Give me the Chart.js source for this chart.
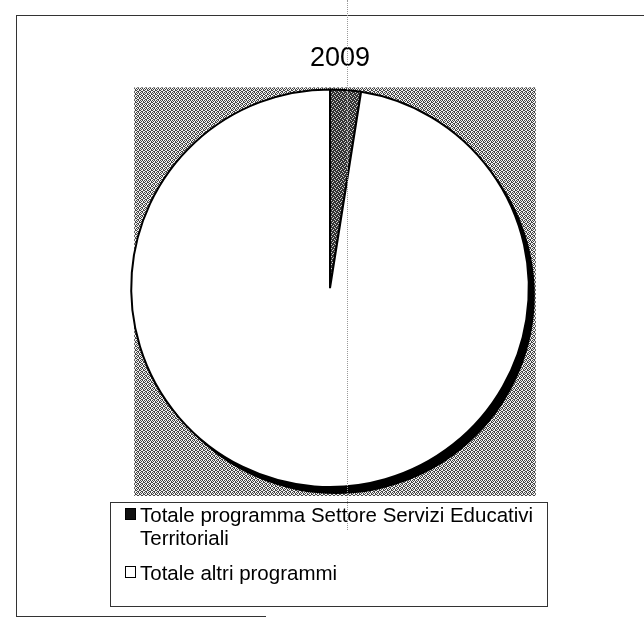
<!DOCTYPE html>
<html>
<head>
<meta charset="utf-8">
<title>2009</title>
<script src="https://cdn.jsdelivr.net/npm/chart.js@4/dist/chart.umd.min.js"></script>
<style>
  html, body { margin: 0; padding: 0; background: #fff; }
  #wrap { position: relative; width: 644px; height: 620px; overflow: hidden; }
  #pie { position: absolute; left: 0; top: 0; }
  .frame { position: absolute; background: #333; }
  #fold { position: absolute; left: 347px; top: 0; height: 530px; border-left: 1px dotted #999; }
  #legend {
    position: absolute; left: 110px; top: 502px; width: 438px; height: 105px;
    border: 1px solid #333; box-sizing: border-box;
    font-family: "Liberation Sans", Arial, sans-serif; font-size: 20.5px; line-height: 23px; color: #000;
  }
  .item { position: relative; padding-left: 29px; width: 410px; }
  .item + .item { margin-top: 12px; }
  .swatch { position: absolute; left: 14px; top: 5px; width: 11px; height: 12px; border: 1.5px solid #000; box-sizing: border-box; }
</style>
</head>
<body>
<div id="wrap">
  <canvas id="pie" width="644" height="620"></canvas>
  <div class="frame" style="left:16px; top:15px; width:628px; height:1px;"></div>
  <div class="frame" style="left:16px; top:15px; width:1px; height:602px;"></div>
  <div class="frame" style="left:16px; top:616px; width:250px; height:1px;"></div>
  <div id="fold"></div>
  <div id="legend"></div>
</div>
<script>
const chartTitle = '2009';
const categories = ['Totale programma Settore Servizi Educativi Territoriali', 'Totale altri programmi'];
const shares = [2.5, 97.5];
const sliceColors = ['#333333', '#ffffff'];
const legendColors = ['#111111', '#ffffff'];

// little dotted tiles, like the printed/scanned greys
function stipple(dark, light, dots) {
  const c = document.createElement('canvas');
  c.width = 4; c.height = 4;
  const g = c.getContext('2d');
  g.fillStyle = light;
  g.fillRect(0, 0, 4, 4);
  g.fillStyle = dark;
  dots.forEach(([x, y]) => g.fillRect(x, y, 1, 1));
  return g.createPattern(c, 'repeat');
}

const backPattern = stipple('#444444', '#f2f2f2', [[0, 0], [2, 0], [1, 1], [3, 1], [0, 2], [3, 2], [1, 3], [2, 3]]);
const slicePattern = stipple(sliceColors[0], '#d0d0d0', [[0, 0], [1, 0], [2, 0], [0, 1], [2, 1], [3, 1], [1, 2], [2, 2], [3, 2], [0, 3], [1, 3], [3, 3]]);

const plotBack = {
  id: 'plotBack',
  beforeDatasetsDraw(chart) {
    const arc = chart.getDatasetMeta(0).data[0];
    if (!arc) return;
    const { x, y, outerRadius: r } = arc.getProps(['x', 'y', 'outerRadius'], true);
    const ctx = chart.ctx;
    ctx.save();
    ctx.fillStyle = backPattern;
    ctx.fillRect(x - r + 3, y - r - 2, 2 * r + 4, 2 * r + 11);
    // heavy dark edge at lower right
    ctx.fillStyle = '#000';
    ctx.beginPath();
    ctx.arc(x + 6, y + 7, r, 0, Math.PI * 2);
    ctx.fill();
    ctx.restore();
  }
};

const shiftTitle = {
  id: 'shiftTitle',
  afterLayout(chart) {
    if (chart.titleBlock) {
      chart.titleBlock.left += 10;
      chart.titleBlock.right += 10;
    }
  }
};

new Chart(document.getElementById('pie'), {
  type: 'pie',
  data: {
    labels: categories,
    datasets: [{
      data: shares,
      backgroundColor: [slicePattern, sliceColors[1]],
      borderColor: '#000',
      borderWidth: 2
    }]
  },
  options: {
    responsive: false,
    animation: false,
    layout: { padding: { left: 130, right: 114, top: 0, bottom: 132 } },
    plugins: {
      legend: { display: false },
      tooltip: { enabled: false },
      title: {
        display: true,
        text: chartTitle,
        color: '#000',
        font: { family: '"Liberation Sans", Arial, sans-serif', size: 27, weight: 'normal' },
        padding: { top: 42, bottom: 14 }
      }
    }
  },
  plugins: [plotBack, shiftTitle]
});

const legendBox = document.getElementById('legend');
categories.forEach((name, i) => {
  const item = document.createElement('div');
  item.className = 'item';
  const sw = document.createElement('span');
  sw.className = 'swatch';
  sw.style.background = legendColors[i];
  item.appendChild(sw);
  item.appendChild(document.createTextNode(name));
  legendBox.appendChild(item);
});
</script>
</body>
</html>
